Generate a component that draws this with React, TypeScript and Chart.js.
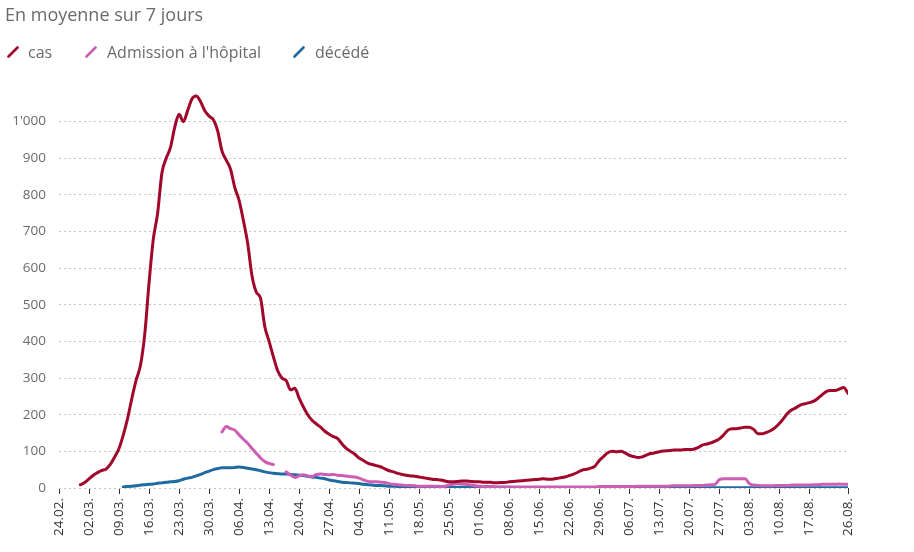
import React, { useEffect, useRef } from 'react';
import { Chart, registerables } from 'chart.js';

Chart.register(...registerables);

// Day index 0 = 24.02.
const tickDays = [0, 7, 14, 21, 28, 35, 42, 49, 56, 63, 70, 77, 84, 91, 98, 105, 112, 119, 126, 133, 140, 147, 154, 161, 168, 175, 184];
const tickLabels = ['24.02.', '02.03.', '09.03.', '16.03.', '23.03.', '30.03.', '06.04.', '13.04.', '20.04.', '27.04.', '04.05.', '11.05.', '18.05.', '25.05.', '01.06.', '08.06.', '15.06.', '22.06.', '29.06.', '06.07.', '13.07.', '20.07.', '27.07.', '03.08.', '10.08.', '17.08.', '26.08.'];
const yTicks = [0, 100, 200, 300, 400, 500, 600, 700, 800, 900, 1000];

const seriesNames = ['cas', "Admission à l'hôpital", 'décédé'];
const seriesColors = ['#a0072b', '#cc5fb4', '#1f6aa0'];

// cas: from day 5 (29.02.) to day 184 (26.08.)
const casStart = 5;
const casValues = [
  9, 15, 25, 35, 42, 48, 52, 65, 85, 108,
  145, 190, 245, 295, 335, 420, 560, 680, 750, 860,
  900, 930, 985, 1020, 1000, 1030, 1062, 1070, 1055, 1030,
  1015, 1005, 975, 920, 895, 870, 820, 785, 730, 668,
  580, 535, 518, 440, 400, 358, 320, 300, 293, 268,
  272, 245, 221, 200, 185, 175, 166, 155, 147, 140,
  135, 120, 108, 100, 92, 82, 75, 68, 64, 61,
  58, 52, 47, 44, 40, 37, 35, 33, 32, 30,
  28, 26, 24, 23, 22, 19, 17, 17, 18, 19,
  19, 18, 17, 17, 16, 16, 15, 14, 15, 15,
  17, 18, 19, 20, 21, 22, 23, 24, 25, 24,
  24, 26, 28, 30, 34, 38, 43, 49, 51, 54,
  60, 75, 86, 96, 100, 99, 100, 96, 89, 86,
  83, 85, 90, 94, 96, 99, 101, 102, 103, 104,
  104, 105, 105, 106, 110, 117, 120, 123, 128, 134,
  145, 158, 162, 162, 164, 166, 166, 160, 148, 148,
  152, 157, 165, 176, 190, 205, 214, 220, 227, 230,
  233, 237, 245, 255, 264, 266, 266, 270, 274, 258,
];

// Admission à l'hôpital: from day 38 (02.04.) to day 184
const hospStart = 38;
const hospValues = [
  153, 168, 162, 158, 145, 133, 122, 108, 95, 82,
  72, 67, 64, null, null, 44, 35, 29, 33, 36,
  33, 31, 37, 38, 37, 36, 37, 35, 34, 33,
  31, 30, 27, 22, 18, 17, 17, 16, 15, 12,
  10, 9, 8, 7, 7, 6, 5, 5, 5, 5,
  5, 4, 5, 8, 11, 12, 11, 10, 8, 6,
  5, 4, 4, 4, 3, 3, 3, 3, 3, 3,
  3, 3, 3, 3, 3, 3, 3, 3, 3, 3,
  3, 3, 3, 3, 3, 3, 3, 3, 4, 4,
  4, 4, 4, 4, 4, 4, 4, 5, 5, 5,
  5, 5, 5, 5, 5, 6, 6, 6, 6, 6,
  7, 7, 7, 8, 9, 10, 23, 25, 25, 25,
  25, 25, 25, 12, 8, 7, 6, 6, 6, 7,
  7, 7, 7, 8, 8, 8, 8, 8, 9, 9,
  10, 10, 10, 10, 11, 10, 10,
];

// décédé: from day 15 (10.03.) to day 184
const deathStart = 15;
const deathValues = [
  3, 4, 5, 6, 8, 9, 10, 11, 13, 14,
  16, 17, 18, 20, 24, 27, 29, 33, 37, 42,
  46, 50, 53, 55, 55, 55, 56, 57, 56, 54,
  52, 50, 47, 44, 42, 40, 39, 38, 38, 37,
  36, 35, 34, 32, 30, 29, 27, 25, 22, 20,
  18, 16, 15, 14, 13, 12, 10, 9, 8, 7,
  7, 6, 5, 5, 4, 4, 3, 3, 3, 2,
  2, 2, 2, 2, 2, 2, 2, 2, 2, 2,
  2, 2, 2, 2, 2, 2, 2, 2, 2, 2,
  2, 1, 1, 1, 1, 1, 1, 1, 1, 1,
  1, 1, 1, 1, 1, 1, 1, 1, 1, 1,
  1, 1, 1, 1, 1, 1, 1, 1, 1, 1,
  1, 1, 1, 1, 1, 1, 1, 1, 1, 1,
  1, 1, 1, 1, 1, 1, 1, 1, 1, 1,
  1, 1, 1, 1, 1, 1, 1, 1, 1, 1,
  1, 1, 1, 1, 1, 1, 1, 1, 1, 1,
  1, 1, 1, 1, 1, 1, 1, 1, 1, 1,
];

const FONT = '"Open Sans", "Noto Sans", sans-serif';
const TEXT = '#6a6a6a';
const XTEXT = '#333333';

function toPoints(start: number, vals: (number | null)[]) {
  return vals.map((v, i) => ({ x: start + i, y: v }));
}

function fmt(v: number) {
  const s = String(Math.round(v));
  return s.replace(/\B(?=(\d{3})+(?!\d))/g, "'");
}

const legendPos = [
  { marker: 7, text: 28 },
  { marker: 85, text: 107 },
  { marker: 293, text: 315 },
];

export default function App() {
  const ref = useRef<HTMLCanvasElement | null>(null);

  useEffect(() => {
    if (!ref.current) return;
    const mk = (i: number, start: number, vals: (number | null)[]) => ({
      label: seriesNames[i],
      data: toPoints(start, vals),
      borderColor: seriesColors[i],
      backgroundColor: seriesColors[i],
      borderWidth: 3,
      pointRadius: 0,
      fill: false,
      spanGaps: false,
      cubicInterpolationMode: 'monotone' as const,
      borderCapStyle: 'round' as const,
      borderJoinStyle: 'round' as const,
    });
    const chart = new Chart(ref.current, {
      type: 'line',
      data: {
        datasets: [
          mk(0, casStart, casValues),
          mk(1, hospStart, hospValues),
          mk(2, deathStart, deathValues),
        ] as any,
      },
      options: {
        animation: false,
        responsive: false,
        maintainAspectRatio: false,
        layout: { padding: { top: 85, right: 66, left: 0, bottom: 0 } },
        plugins: {
          legend: { display: false },
          title: { display: false },
          tooltip: { enabled: false },
        },
        scales: {
          x: {
            type: 'linear',
            min: 0,
            max: 184,
            afterBuildTicks: (s: any) => {
              s.ticks = tickDays.map((v) => ({ value: v }));
            },
            afterFit: (s: any) => {
              s.height = 64;
            },
            ticks: {
              autoSkip: false,
              maxRotation: 90,
              minRotation: 90,
              padding: 4,
              color: XTEXT,
              font: { family: FONT, size: 13.5 },
              callback: (v: any) => {
                const i = tickDays.indexOf(Number(v));
                return i >= 0 ? tickLabels[i] : '';
              },
            },
            grid: { drawOnChartArea: false, drawTicks: true, tickLength: 6, color: '#333', lineWidth: 1 },
            border: { display: false },
          },
          y: {
            min: 0,
            max: 1100,
            afterBuildTicks: (s: any) => {
              s.ticks = yTicks.map((v) => ({ value: v }));
            },
            afterFit: (s: any) => {
              s.width = 59;
            },
            ticks: {
              padding: 13,
              color: TEXT,
              font: { family: FONT, size: 13.5 },
              callback: (v: any) => fmt(Number(v)),
            },
            grid: { color: '#c4c4c4', drawTicks: false, lineWidth: 1 },
            border: { display: false, dash: [2, 3] },
          },
        },
      } as any,
    });
    return () => chart.destroy();
  }, []);

  return (
    <div style={{ position: 'absolute', left: 0, top: 0, width: 914, height: 552, background: '#fff', fontFamily: FONT }}>
      <canvas ref={ref} width={914} height={552} style={{ position: 'absolute', left: 0, top: 0, width: 914, height: 552 }} />
      <div style={{ position: 'absolute', left: 5, top: 5, fontSize: 18, lineHeight: '18px', color: TEXT, whiteSpace: 'nowrap' }}>
        En moyenne sur 7 jours
      </div>
      {seriesNames.map((name, i) => (
        <React.Fragment key={name}>
          <svg width={12} height={12} style={{ position: 'absolute', left: legendPos[i].marker, top: 46 }}>
            <line x1={1.5} y1={10.5} x2={10.5} y2={1.5} stroke={seriesColors[i]} strokeWidth={2.6} strokeLinecap="round" />
          </svg>
          <div style={{ position: 'absolute', left: legendPos[i].text, top: 44, fontSize: 16, lineHeight: '16px', color: TEXT, whiteSpace: 'nowrap' }}>
            {name}
          </div>
        </React.Fragment>
      ))}
    </div>
  );
}
